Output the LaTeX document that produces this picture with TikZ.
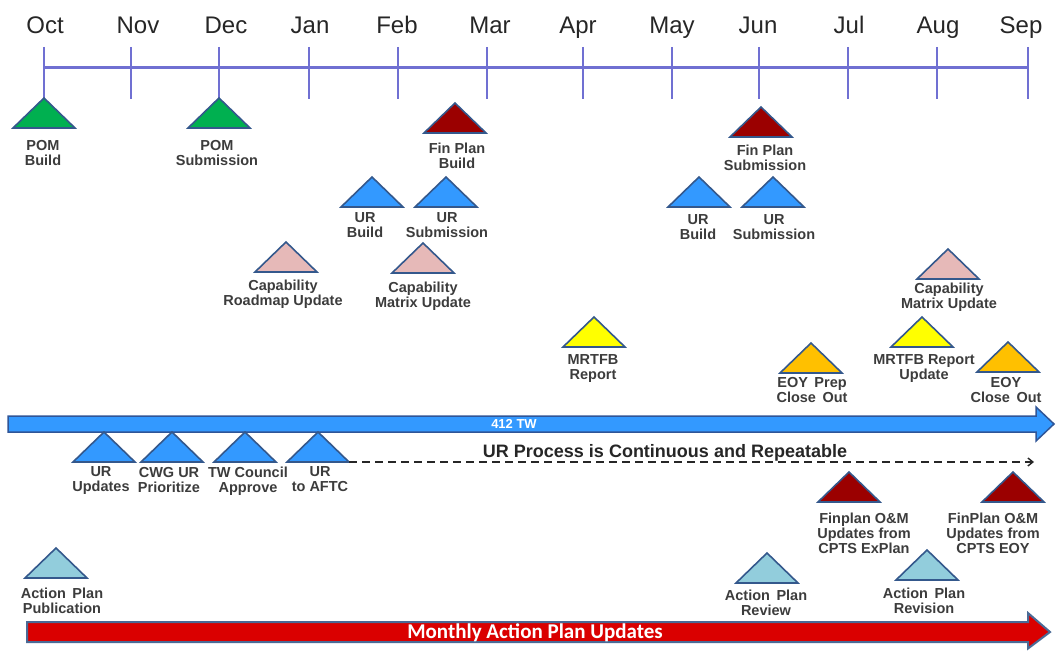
\documentclass[tikz,border=0pt]{standalone}
\usepackage{fontspec}
\setmainfont{Liberation Sans}
\newfontfamily\calibfont{Carlito}
\usetikzlibrary{arrows.meta}
\definecolor{tlblue}{RGB}{112,112,210}
\definecolor{triedge}{RGB}{52,88,140}
\definecolor{cgreen}{RGB}{0,176,80}
\definecolor{cdred}{RGB}{155,0,0}
\definecolor{cblue}{RGB}{51,153,255}
\definecolor{cpink}{RGB}{230,185,184}
\definecolor{cyellow}{RGB}{255,255,0}
\definecolor{corange}{RGB}{255,192,0}
\definecolor{cltblue}{RGB}{146,205,220}
\definecolor{labgray}{RGB}{60,60,60}
\definecolor{barblue}{RGB}{51,153,255}
\definecolor{barblueedge}{RGB}{47,85,151}
\definecolor{barred}{RGB}{218,0,0}
\definecolor{barrededge}{RGB}{74,106,150}
\newcommand{\mstone}[7]{%
  \filldraw[tri,fill=#4] (#2,#3) coordinate (#1-apex) -- ++(-31,30) coordinate (#1-bl) -- ++(62,0) coordinate (#1-br) -- cycle;
  \node[lab] (#1) at (#5,#6-5.3) {#7};
}
\newcommand{\wsp}{\hspace{6.5pt}}
\begin{document}
\begin{tikzpicture}[x=1pt,y=-1pt,
  tri/.style={draw=triedge,line width=1.6pt,line join=miter},
  lab/.style={anchor=north,inner sep=0pt,align=center,text=labgray,font=\fontsize{14.5}{15}\selectfont\bfseries},
  month/.style={anchor=base,inner sep=0pt,text=black!85,font=\fontsize{24}{28}\selectfont},
  tick/.style={draw=tlblue,line width=1.6pt},
  axis/.style={draw=tlblue,line width=3pt}]
\useasboundingbox (0,0) rectangle (1056,650);

% timeline
\coordinate (tl-start) at (44,68);
\coordinate (tl-end) at (1028,68);
\draw[axis] (tl-start) -- (tl-end);
\foreach \n/\tx/\lx in {Oct/44/45, Nov/131/138, Dec/219/226, Jan/309/310, Feb/398/397, Mar/487/490, Apr/583/578, May/672/672, Jun/759/758, Jul/848/849, Aug/937/938, Sep/1028/1021}{
  \draw[tick] (\tx,47) coordinate (t-\n-top) -- (\tx,99) coordinate (t-\n-bot);
  \node[month] (m-\n) at (\lx,33.6) {\n};
}

% milestones above the 412 TW bar
\mstone{pombuild}{44}{98}{cgreen}{43}{145}{POM\\Build}
\mstone{pomsub}{219}{98}{cgreen}{217}{145}{POM\\Submission}
\mstone{fpbuild}{455}{103}{cdred}{457}{148}{Fin Plan\\Build}
\mstone{fpsub}{761}{107}{cdred}{765}{150}{Fin Plan\\Submission}
\mstone{urbuildA}{372}{177}{cblue}{365}{218}{UR\\Build}
\mstone{ursubA}{446}{177}{cblue}{447}{218}{UR\\Submission}
\mstone{caproad}{286}{242}{cpink}{283}{285}{Capability\\Roadmap Update}
\mstone{capmatA}{423}{243}{cpink}{423}{287}{Capability\\Matrix Update}
\mstone{urbuildB}{699}{177}{cblue}{698}{220}{UR\\Build}
\mstone{ursubB}{773}{177}{cblue}{774}{220}{UR\\Submission}
\mstone{capmatB}{948}{249}{cpink}{949}{288}{Capability\\Matrix Update}
\mstone{mrtfb}{594}{317}{cyellow}{593}{360}{MRTFB\\Report}
\mstone{eoyprep}{811}{343}{corange}{812}{382}{EOY\wsp Prep\\Close\wsp Out}
\mstone{mrtfbup}{922}{317}{cyellow}{924}{360}{MRTFB Report\\Update}
\mstone{eoyclose}{1008}{342}{corange}{1006}{382}{EOY\\Close\wsp Out}

% 412 TW bar
\filldraw[fill=barblue,draw=barblueedge,line width=1.5pt,line join=miter]
  (8,416) -- (1036,416) -- (1036,407) -- (1054,424) -- (1036,441) -- (1036,432) -- (8,432) -- cycle;
\node[anchor=base,inner sep=0pt,text=white,font=\fontsize{13}{15}\selectfont\bfseries] (tw) at (514,428.8) {412 TW};

% UR process milestones
\mstone{urupd}{104}{432}{cblue}{101}{472}{UR\\Updates}
\mstone{cwg}{172}{432}{cblue}{169}{472}{CWG UR\\Prioritize}
\mstone{twc}{245}{432}{cblue}{248}{472}{TW Council\\Approve}
\mstone{aftc}{318}{432}{cblue}{320}{472}{UR\\to AFTC}

\coordinate (ur-end) at (1034,462);
\draw[dash pattern=on 8pt off 5pt,line width=1.4pt,black!85,-{Straight Barb[length=5pt,width=8pt]}] (aftc-br) -- (ur-end);
\node[anchor=base,inner sep=0pt,text=black!85,font=\fontsize{18}{20}\selectfont\bfseries] (urproc) at (665,457) {UR Process is Continuous and Repeatable};

% Finplan O&M updates
\mstone{fpom}{849}{472}{cdred}{864}{518}{Finplan O\&M\\Updates from\\CPTS ExPlan}
\mstone{fpeoy}{1013}{472}{cdred}{993}{518}{FinPlan O\&M\\Updates from\\CPTS EOY}

% Action plan milestones
\mstone{appub}{56}{548}{cltblue}{62}{593}{Action\wsp Plan\\Publication}
\mstone{aprev}{767}{553}{cltblue}{766}{595}{Action\wsp Plan\\Review}
\mstone{aprevis}{927}{550}{cltblue}{924}{593}{Action\wsp Plan\\Revision}

% Monthly Action Plan Updates bar
\filldraw[fill=barred,draw=barrededge,line width=2pt,line join=miter]
  (27,622) -- (1028,622) -- (1028,613) -- (1050,632) -- (1028,648.5) -- (1028,642) -- (27,642) -- cycle;
\node[anchor=base,inner sep=0pt,text=white,font=\calibfont\fontsize{21}{24}\selectfont\bfseries] (monthly) at (535,638.8) {Monthly Action Plan Updates};
\end{tikzpicture}
\end{document}
